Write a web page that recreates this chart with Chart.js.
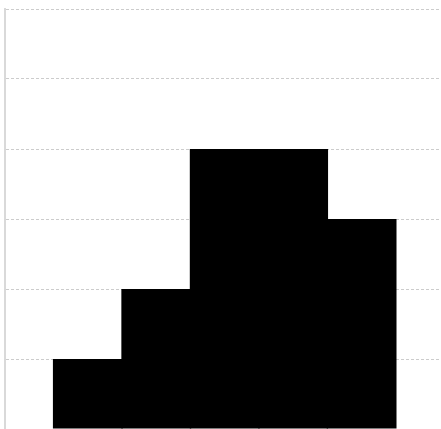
<!DOCTYPE html>
<html>
<head>
<meta charset="utf-8">
<script src="https://cdn.jsdelivr.net/npm/chart.js@4/dist/chart.umd.min.js"></script>
<style>
html,body{margin:0;padding:0;background:#fff;}
#wrap{width:441px;height:429px;position:relative;}
</style>
</head>
<body>
<div id="wrap"><canvas id="c"></canvas></div>
<script>
const binCenters = [1, 2, 3, 4, 5];
const counts = [1, 2, 4, 4, 3];
const yTicksMax = 6;

const data = binCenters.map((x, i) => ({x: x, y: counts[i]}));

new Chart(document.getElementById('c'), {
  type: 'bar',
  data: {
    datasets: [{
      data: data,
      backgroundColor: '#000000',
      borderWidth: 0,
      barPercentage: 1.02,
      categoryPercentage: 1.0
    }]
  },
  options: {
    responsive: true,
    maintainAspectRatio: false,
    animation: false,
    events: [],
    layout: {padding: {left: 5, top: 9, right: 0, bottom: 0}},
    plugins: {legend: {display: false}, tooltip: {enabled: false}},
    scales: {
      x: {
        type: 'linear',
        display: false,
        min: -0.21,
        max: 6.16,
        offset: false,
        ticks: {stepSize: 1}
      },
      y: {
        min: 0,
        max: yTicksMax,
        ticks: {display: false, stepSize: 1},
        grid: {color: '#cccccc', lineWidth: 1, drawTicks: false},
        border: {display: true, color: '#d9d9d9', width: 2, dash: [3, 2]}
      }
    }
  }
});
</script>
</body>
</html>
